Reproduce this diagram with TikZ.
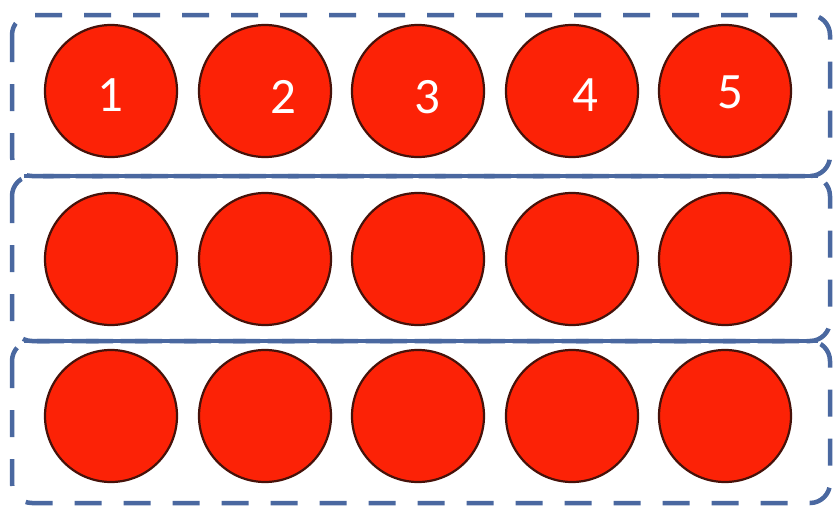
\documentclass[tikz,border=0pt]{standalone}
\usepackage{fontspec}
\setmainfont{Carlito}
\definecolor{ballred}{RGB}{252,34,6}
\definecolor{balledge}{RGB}{70,18,10}
\definecolor{boxblue}{RGB}{74,104,160}
\begin{document}
\begin{tikzpicture}[x=1pt,y=-1pt,
  ball/.style={circle,draw=balledge,line width=2.2pt,fill=ballred,minimum size=132pt,inner sep=0pt},
  numlabel/.style={text=white,font=\fontsize{51}{51}\selectfont,inner sep=0pt},
  groupbox/.style={draw=boxblue,line width=4.5pt,dash pattern=on 27pt off 22pt,rounded corners=20pt},
  divider/.style={draw=boxblue,line width=4.5pt}]
\useasboundingbox (0,0) rectangle (836,512);
\fill[white] (0,0) rectangle (836,512);
% group boxes
\draw[groupbox] (12,15) rectangle (830,176);
\draw[groupbox] (12,176) rectangle (830,341);
\draw[groupbox] (12,341) rectangle (830,503);
\coordinate (d1a) at (24,176);
\coordinate (d1b) at (818,176);
\coordinate (d2a) at (24,341);
\coordinate (d2b) at (818,341);
\draw[divider] (d1a) -- (d1b);
\draw[divider] (d2a) -- (d2b);
% balls
\foreach \r/\y in {1/91,2/259,3/416}{
  \foreach \c/\x in {1/111,2/265,3/418,4/572,5/725}{
    \node[ball] (b\r\c) at (\x,\y) {};
  }
}
% labels
\node[numlabel] (l1) at (110,95) {1};
\node[numlabel] (l2) at (283,97) {2};
\node[numlabel] (l3) at (427,97) {3};
\node[numlabel] (l4) at (585,95) {4};
\node[numlabel] (l5) at (730,92) {5};
\end{tikzpicture}
\end{document}
